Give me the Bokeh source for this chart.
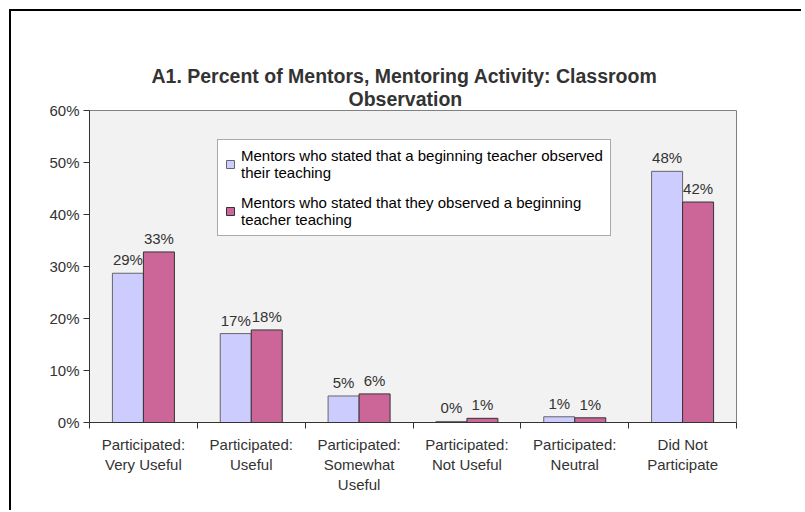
from bokeh.plotting import figure
from bokeh.models import (ColumnDataSource, FixedTicker, Legend, LegendItem, Title,
                          LabelSet, Range1d, PrintfTickFormatter)
from bokeh.core.properties import value
from bokeh.embed import file_html
from bokeh.resources import INLINE

# ---- data ----
categories = ["Participated:\nVery Useful", "Participated:\nUseful",
              "Participated:\nSomewhat\nUseful", "Participated:\nNot Useful",
              "Participated:\nNeutral", "Did Not\nParticipate"]
series_names = ["Mentors who stated that a beginning teacher observed\ntheir teaching",
                "Mentors who stated that they observed a beginning\nteacher teaching"]
beginner_observed_mentor = [28.7, 17.1, 5.1, 0.2, 1.1, 48.3]
mentor_observed_beginner = [32.8, 17.8, 5.5, 0.8, 0.9, 42.4]
y_ticks = [0, 10, 20, 30, 40, 50, 60]
title_lines = ["A1. Percent of Mentors, Mentoring Activity: Classroom", "Observation"]

FONT = "Liberation Sans"
TXT = "#333333"
BAR_W = 0.2875

n = len(categories)
centers = [i + 0.5 for i in range(n)]
src1 = ColumnDataSource(dict(x=[c - BAR_W / 2 for c in centers], top=beginner_observed_mentor,
                             lab=[f"{round(v)}%" for v in beginner_observed_mentor]))
src2 = ColumnDataSource(dict(x=[c + BAR_W / 2 for c in centers], top=mentor_observed_beginner,
                             lab=[f"{round(v)}%" for v in mentor_observed_beginner]))

p = figure(width=792, height=501, output_backend="svg", toolbar_location=None,
           x_range=Range1d(0, n), y_range=Range1d(0, 60),
           min_border_left=78, min_border_right=67, min_border_top=99, min_border_bottom=90)
# outer chart border: only its top and left edges are inside the picture
p.styles = {"margin-left": "9px", "margin-top": "9px",
            "border-left": "2px solid black", "border-top": "2px solid black"}
p.background_fill_color = "#f2f2f2"
p.border_fill_color = "white"
p.outline_line_color = "#808080"
p.outline_line_width = 1
p.xgrid.visible = False
p.ygrid.visible = False

r1 = p.vbar(x="x", top="top", width=BAR_W, source=src1, fill_color="#ccccff",
            line_color="#666666", line_width=1)
r2 = p.vbar(x="x", top="top", width=BAR_W, source=src2, fill_color="#cc6699",
            line_color="#333333", line_width=1)

for s in (src1, src2):
    p.add_layout(LabelSet(x="x", y="top", text="lab", source=s, text_align="center",
                          text_baseline="bottom", y_offset=5, text_font=value(FONT),
                          text_font_size="15px", text_color=TXT))

# axes
p.yaxis.ticker = FixedTicker(ticks=y_ticks, minor_ticks=[])
p.yaxis.formatter = PrintfTickFormatter(format="%d%%")
p.yaxis.major_label_text_font = FONT
p.yaxis.major_label_text_font_size = "15px"
p.yaxis.major_label_text_color = TXT
p.yaxis.major_tick_in = 0
p.yaxis.major_tick_out = 6
p.yaxis.major_tick_line_color = "#333333"
p.yaxis.axis_line_color = "#333333"
p.yaxis.major_label_standoff = 4

p.xaxis.ticker = FixedTicker(ticks=centers, minor_ticks=list(range(n + 1)))
p.xaxis.major_label_overrides = {c: lab for c, lab in zip(centers, categories)}
p.xaxis.major_tick_line_color = None
p.xaxis.major_tick_out = 6
p.xaxis.major_tick_in = 0
p.xaxis.minor_tick_line_color = "#333333"
p.xaxis.minor_tick_out = 6
p.xaxis.minor_tick_in = 0
p.xaxis.axis_line_color = "#333333"
p.xaxis.major_label_text_font = FONT
p.xaxis.major_label_text_font_size = "15px"
p.xaxis.major_label_text_color = TXT
p.xaxis.major_label_standoff = 7

# title: second line first (closest to the frame), then the first line above it
for line, off, stand in ((title_lines[1], 259, 1), (title_lines[0], 62, -2)):
    p.add_layout(Title(text=line, align="left", offset=off, text_font=FONT,
                       text_font_size="19.5px", text_font_style="bold", text_color=TXT,
                       standoff=stand), "above")

legend = Legend(items=[LegendItem(label=series_names[0], renderers=[r1]),
                       LegendItem(label=series_names[1], renderers=[r2])],
                location=(128, 186), label_text_font=FONT, label_text_font_size="15px",
                label_text_color="black", glyph_width=10, glyph_height=10,
                border_line_color="#555555", background_fill_color="white",
                background_fill_alpha=1, padding=7, spacing=13, margin=0,
                label_standoff=6)
p.add_layout(legend)

open("out.html", "w").write(file_html(p, INLINE))
